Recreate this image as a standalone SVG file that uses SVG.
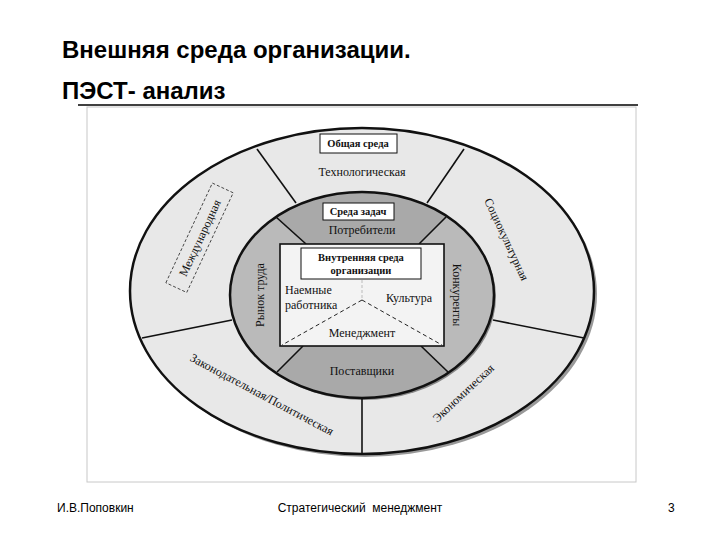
<svg xmlns="http://www.w3.org/2000/svg" width="720" height="540" viewBox="0 0 720 540">
<style>
.t{font-family:"Liberation Serif","Times New Roman",serif;font-size:12px;fill:#111;text-anchor:middle}
.b{font-weight:bold;font-size:10.5px}
.f{font-family:"Liberation Sans",Arial,sans-serif;font-size:12px;fill:#000}
.ln{stroke:#111;stroke-width:1.6;fill:none}
</style>
<defs><clipPath id="ci"><ellipse cx="362" cy="295" rx="132" ry="103"/></clipPath></defs>
<rect width="720" height="540" fill="#fff"/>
<g id="title" font-family="'Liberation Sans',Arial,sans-serif" font-weight="bold" font-size="24" fill="#000">
<text x="62" y="58">Внешняя среда организации.</text>
<text x="62" y="99">ПЭСТ- анализ</text>
</g>
<line x1="78" y1="105" x2="638" y2="105" stroke="#000" stroke-width="1.5"/>
<rect x="87" y="107" width="549" height="375" fill="#fff" stroke="#c8c8c8" stroke-width="1"/>
<g id="outer">
<ellipse cx="365" cy="294" rx="232" ry="163" fill="#999"/>
<ellipse cx="362" cy="291" rx="232" ry="163" fill="#e8e8e8" stroke="#111" stroke-width="2.5"/>
</g>
<g id="inner">
<ellipse cx="364" cy="297" rx="132" ry="103" fill="#888"/>
<ellipse cx="362" cy="295" rx="132" ry="103" fill="#bababa"/>
<g clip-path="url(#ci)" fill="#a9a9a9">
<polygon points="306,244 240,185 240,150 482,150 482,185 419,244"/>
<polygon points="303,346 245,403 245,420 480,420 480,405 421,346"/>
</g>
<ellipse cx="362" cy="295" rx="132" ry="103" fill="none" stroke="#111" stroke-width="2.5"/>
</g>
<g id="connectors">
<line class="ln" x1="257" y1="149" x2="296" y2="203"/>
<line class="ln" x1="464" y1="149" x2="427" y2="203"/>
<line class="ln" x1="493" y1="320" x2="584" y2="338"/>
<line class="ln" x1="362" y1="397" x2="362" y2="454"/>
<line class="ln" x1="232" y1="320" x2="142" y2="338"/>
<line class="ln" x1="276" y1="217" x2="306" y2="244"/>
<line class="ln" x1="446" y1="217" x2="419" y2="244"/>
<line class="ln" x1="277" y1="372" x2="303" y2="346"/>
<line class="ln" x1="448" y1="372" x2="421" y2="346"/>
</g>
<g id="org">
<rect x="280" y="244" width="164" height="102" fill="#f3f3f3" stroke="#111" stroke-width="1.6"/>
<line x1="362" y1="280" x2="362" y2="300" stroke="#bbb" stroke-dasharray="3,2"/>
<line x1="362" y1="300" x2="282" y2="345" stroke="#222" stroke-dasharray="4,3"/>
<line x1="362" y1="300" x2="442" y2="345" stroke="#222" stroke-dasharray="4,3"/>
<rect x="301" y="248" width="120" height="31" fill="#fff" stroke="#111"/>
<text class="t b" x="361" y="261">Внутренняя среда</text>
<text class="t b" x="361" y="274">организации</text>
<text class="t" x="285" y="294" style="text-anchor:start">Наемные</text>
<text class="t" x="285" y="309" style="text-anchor:start">работника</text>
<text class="t" x="409" y="302">Культура</text>
<text class="t" x="362" y="337">Менеджмент</text>
</g>
<g id="boxes">
<rect x="320" y="134" width="77" height="19" fill="#fff" stroke="#111"/>
<text class="t b" x="358" y="147">Общая среда</text>
<rect x="323" y="203" width="71" height="17" fill="#fff" stroke="#111"/>
<text class="t b" x="358" y="215">Среда задач</text>
</g>
<g id="labels">
<text class="t" x="362" y="176">Технологическая</text>
<text class="t" x="362" y="234">Потребители</text>
<text class="t" x="362" y="375">Поставщики</text>
<text class="t" transform="translate(264,295) rotate(-90)">Рынок труда</text>
<text class="t" transform="translate(453,295) rotate(90)">Конкуренты</text>
<g transform="translate(200,238) rotate(-65)">
<rect x="-55" y="-12" width="110" height="23" fill="none" stroke="#333" stroke-width="0.8" stroke-dasharray="3,2"/>
<text class="t" x="0" y="4">Международная</text>
</g>
<text class="t" transform="translate(503,241) rotate(65)">Социокультурная</text>
<text class="t" transform="translate(260,398) rotate(28)">Законодательная/Политическая</text>
<text class="t" transform="translate(466,396) rotate(-43)">Экономическая</text>
</g>
<g id="footer">
<text class="f" x="57" y="512">И.В.Поповкин</text>
<text class="f" x="360" y="512" text-anchor="middle" style="white-space:pre">Стратегический  менеджмент</text>
<text class="f" x="668" y="512">3</text>
</g>
</svg>
